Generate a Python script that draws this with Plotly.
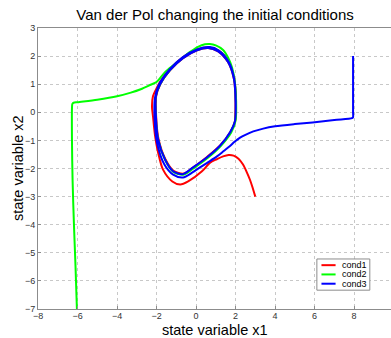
import plotly.graph_objects as go

# Phase-plane trajectories (state variable x1, state variable x2)
cond1_x = [3.0, 2.85, 2.73, 2.55, 2.38, 2.15, 1.9, 1.65, 1.37, 1.05, 0.71, 0.3, -0.4, -0.8,
           -1.2, -1.67, -1.92, -2.07, -2.18, -2.23, -2.18, -1.97, -1.8, -1.31, -0.65, 0.05,
           0.7, 1.15, 1.65, 1.93, 2.02, 1.98, 1.74, 1.22, 0.57, -0.12, -0.63, -1.14, -1.55,
           -1.9, -2.02, -2.02, -1.81, -1.31, -0.66, 0.05, 0.61, 1.1, 1.62, 1.92, 2.0, 1.97]
cond1_y = [-3.0, -2.65, -2.4, -2.1, -1.86, -1.65, -1.54, -1.52, -1.57, -1.67, -1.79, -2.1, -2.46, -2.57,
           -2.46, -2.04, -1.43, -0.86, -0.14, 0.21, 0.57, 0.89, 1.1, 1.55, 1.97, 2.24,
           2.3, 2.2, 1.8, 1.2, 0.4, -0.3, -0.7, -1.18, -1.58, -1.95, -2.18, -2.08, -1.67,
           -0.95, -0.14, 0.57, 1.0, 1.5, 1.93, 2.21, 2.29, 2.18, 1.79, 1.18, 0.36, -0.32]

cond2_x = [-6.03, -6.1, -6.18, -6.25, -6.28, -6.28, -6.26, -6.2, -6.0, -5.0, -4.0, -3.3, -2.8,
           -2.3, -2.0, -1.57, -1.1, -0.7, -0.3, 0.1, 0.45, 0.7, 1.0, 1.37, 1.62, 1.82, 1.96,
           2.03, 2.0, 1.78, 1.25, 0.6, -0.1, -0.64, -1.15, -1.56, -1.92, -2.04, -2.04, -1.82,
           -1.32, -0.66, 0.05, 0.62, 1.12, 1.64, 1.94, 2.02, 1.98, 1.74]
cond2_y = [-7.0, -5.5, -4.0, -2.4, -1.0, 0.15, 0.3, 0.34, 0.36, 0.45, 0.57, 0.7, 0.82,
           0.98, 1.08, 1.43, 1.7, 1.93, 2.15, 2.33, 2.42, 2.43, 2.38, 2.22, 1.95, 1.6, 1.1,
           0.4, -0.3, -0.72, -1.2, -1.62, -1.98, -2.22, -2.12, -1.7, -0.97, -0.14, 0.57, 1.0,
           1.5, 1.94, 2.22, 2.31, 2.2, 1.8, 1.2, 0.36, -0.32, -0.7]

cond3_x = [7.95, 7.95, 7.95, 7.95, 7.9, 7.0, 5.9, 5.0, 4.0, 3.4, 2.9, 2.5, 2.23, 1.95, 1.72,
           1.4, 1.06, 0.6, 0.2, -0.2, -0.66, -1.16, -1.6, -1.97, -2.1, -2.08, -1.88, -1.35,
           -0.68, 0.05, 0.7, 1.15, 1.65, 1.93, 2.01, 1.97, 1.73, 1.2, 0.56, -0.15, -0.66,
           -1.16, -1.57, -1.92, -2.03, -2.03, -1.82, -1.32, -0.66, 0.05, 0.61, 1.1, 1.62,
           1.92, 2.0, 1.97, 1.72, 1.2, 0.56, -0.15]
cond3_y = [2.0, 1.0, 0.0, -0.17, -0.21, -0.27, -0.36, -0.42, -0.5, -0.58, -0.68, -0.8, -0.9, -1.05, -1.2,
           -1.38, -1.57, -1.78, -1.96, -2.15, -2.32, -2.22, -1.86, -1.1, -0.2, 0.5, 0.98, 1.52,
           1.96, 2.24, 2.32, 2.2, 1.8, 1.2, 0.4, -0.32, -0.71, -1.2, -1.6, -1.96, -2.2,
           -2.1, -1.68, -0.96, -0.14, 0.57, 1.0, 1.5, 1.93, 2.21, 2.29, 2.18, 1.79,
           1.18, 0.36, -0.32, -0.71, -1.2, -1.6, -1.96]

series = [
    ("cond1", cond1_x, cond1_y, "#ff0000"),
    ("cond2", cond2_x, cond2_y, "#00ff00"),
    ("cond3", cond3_x, cond3_y, "#0000ff"),
]

x_ticks = [-8, -6, -4, -2, 0, 2, 4, 6, 8, 10]
y_ticks = [-7, -6, -5, -4, -3, -2, -1, 0, 1, 2, 3]

FONT = "Liberation Sans, Arial"

fig = go.Figure()
for name, xs, ys, color in series:
    fig.add_trace(go.Scatter(
        x=xs, y=ys, mode="lines", name=name, showlegend=False,
        line=dict(color=color, width=2, shape="spline", smoothing=0.8),
    ))

axis_style = dict(
    showline=True, linecolor="#8c8c8c", linewidth=1,
    ticks="inside", ticklen=3, tickcolor="#8c8c8c",
    showgrid=True, gridcolor="#c8c8c8", griddash="dot", gridwidth=1,
    zeroline=False,
    tickfont=dict(family=FONT, size=9, color="#333333"),
)

fig.update_layout(
    width=391, height=338,
    margin=dict(l=38, r=0, t=28, b=29),
    paper_bgcolor="#ffffff", plot_bgcolor="#ffffff",
    title=dict(text="Van der Pol changing the initial conditions",
               x=0.55, xanchor="center", y=0.956, yanchor="middle",
               font=dict(family=FONT, size=15, color="#000000")),
    xaxis=dict(range=[-8, 9.87], tickvals=x_ticks, mirror=True,
               ticklabelstandoff=-2, **axis_style),
    yaxis=dict(range=[-7, 3], tickvals=y_ticks, **axis_style),
)

# Axis titles
fig.add_annotation(xref="paper", yref="paper", x=0.5, y=-0.0747, text="state variable x1",
                   showarrow=False, xanchor="center", yanchor="middle",
                   font=dict(family=FONT, size=14.5, color="#000000"))
fig.add_annotation(xref="paper", yref="paper", x=-0.058, y=0.5, text="state variable x2",
                   showarrow=False, xanchor="center", yanchor="middle", textangle=-90,
                   font=dict(family=FONT, size=14.5, color="#000000"))

# Legend box drawn in paper coordinates
lx0, lx1, ly0, ly1 = 0.79, 0.94, 0.067, 0.178
fig.add_shape(type="rect", xref="paper", yref="paper", x0=lx0, x1=lx1, y0=ly0, y1=ly1,
              line=dict(color="#8c8c8c", width=1), fillcolor="#ffffff", layer="above")
for i, (name, _, _, color) in enumerate(series):
    yy = ly1 - 0.022 - i * 0.033
    fig.add_shape(type="line", xref="paper", yref="paper", x0=lx0 + 0.013, x1=lx0 + 0.053,
                  y0=yy, y1=yy, line=dict(color=color, width=2), layer="above")
    fig.add_annotation(xref="paper", yref="paper", x=lx0 + 0.065, y=yy, text=name,
                       showarrow=False, xanchor="left", yanchor="middle",
                       font=dict(family=FONT, size=9, color="#000000"))

fig.write_html("out.html")
